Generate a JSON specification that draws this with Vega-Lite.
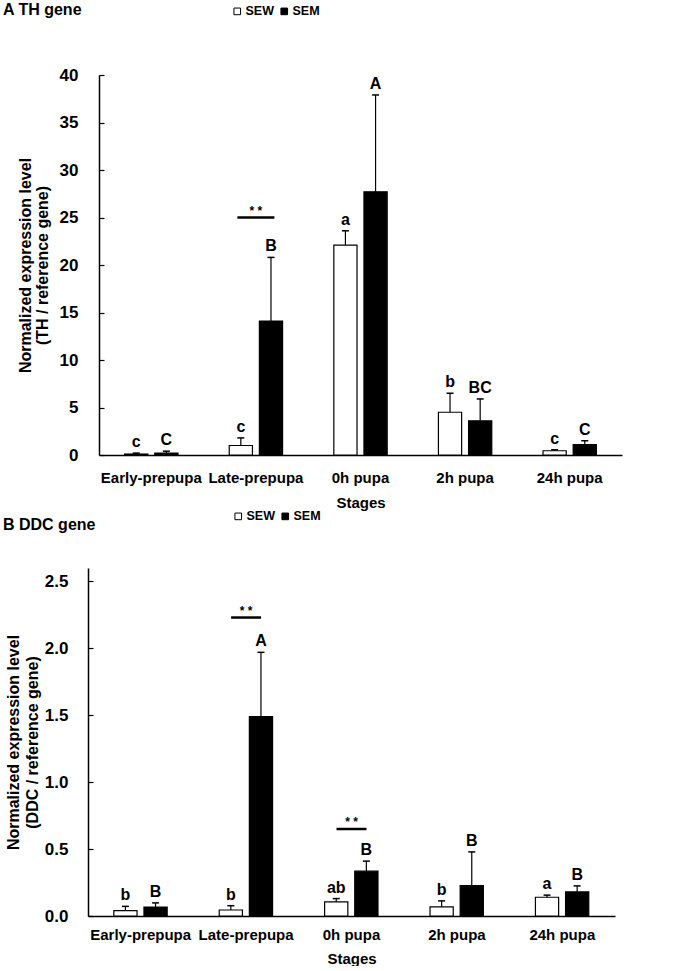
{
  "$schema": "https://vega.github.io/schema/vega-lite/v6.json",
  "padding": {"left": 3, "top": 1, "right": 5, "bottom": 0},
  "background": "white",
  "config": {
    "font": "Liberation Sans",
    "view": {"stroke": null},
    "axis": {"labelFont": "Liberation Sans", "titleFont": "Liberation Sans", "labelFontWeight": "bold", "titleFontWeight": "bold", "labelColor": "black", "titleColor": "black", "domainColor": "black", "tickColor": "black", "grid": false},
    "text": {"font": "Liberation Sans", "fontWeight": "bold", "color": "black"}
  },
  "datasets": {
    "th": [
      {"stage": "Early-prepupa", "group": "SEW", "mean": 0.1, "upper": 0.2, "letter": "c"},
      {"stage": "Early-prepupa", "group": "SEM", "mean": 0.2, "upper": 0.4, "letter": "C"},
      {"stage": "Late-prepupa", "group": "SEW", "mean": 1.0, "upper": 1.8, "letter": "c"},
      {"stage": "Late-prepupa", "group": "SEM", "mean": 14.1, "upper": 20.8, "letter": "B"},
      {"stage": "0h pupa", "group": "SEW", "mean": 22.1, "upper": 23.6, "letter": "a"},
      {"stage": "0h pupa", "group": "SEM", "mean": 27.7, "upper": 37.9, "letter": "A"},
      {"stage": "2h pupa", "group": "SEW", "mean": 4.5, "upper": 6.5, "letter": "b"},
      {"stage": "2h pupa", "group": "SEM", "mean": 3.6, "upper": 5.9, "letter": "BC"},
      {"stage": "24h pupa", "group": "SEW", "mean": 0.45, "upper": 0.55, "letter": "c"},
      {"stage": "24h pupa", "group": "SEM", "mean": 1.1, "upper": 1.5, "letter": "C"}
    ],
    "th_sig": [
      {"stage": "Late-prepupa", "y": 25.0}
    ],
    "ddc": [
      {"stage": "Early-prepupa", "group": "SEW", "mean": 0.04, "upper": 0.072, "letter": "b"},
      {"stage": "Early-prepupa", "group": "SEM", "mean": 0.067, "upper": 0.098, "letter": "B"},
      {"stage": "Late-prepupa", "group": "SEW", "mean": 0.045, "upper": 0.077, "letter": "b"},
      {"stage": "Late-prepupa", "group": "SEM", "mean": 1.49, "upper": 1.97, "letter": "A"},
      {"stage": "0h pupa", "group": "SEW", "mean": 0.105, "upper": 0.13, "letter": "ab"},
      {"stage": "0h pupa", "group": "SEM", "mean": 0.335, "upper": 0.41, "letter": "B"},
      {"stage": "2h pupa", "group": "SEW", "mean": 0.068, "upper": 0.113, "letter": "b"},
      {"stage": "2h pupa", "group": "SEM", "mean": 0.228, "upper": 0.479, "letter": "B"},
      {"stage": "24h pupa", "group": "SEW", "mean": 0.14, "upper": 0.156, "letter": "a"},
      {"stage": "24h pupa", "group": "SEM", "mean": 0.18, "upper": 0.225, "letter": "B"}
    ],
    "ddc_sig": [
      {"stage": "Late-prepupa", "y": 2.23},
      {"stage": "0h pupa", "y": 0.65}
    ]
  },
  "spacing": 0,
  "bounds": "full",
  "resolve": {"scale": {"color": "independent"}, "legend": {"color": "independent"}},
  "vconcat": [
    {
      "width": 534,
      "height": 380,
      "title": {"text": "A   TH gene", "anchor": "start", "frame": "group", "dx": -85, "offset": -12.5, "fontSize": 16, "fontWeight": "bold", "color": "black", "font": "Liberation Sans"},
      "encoding": {
        "x": {"field": "stage", "type": "nominal",
          "scale": {"domain": ["Early-prepupa", "Late-prepupa", "0h pupa", "2h pupa", "24h pupa"], "range": [11, 534], "paddingInner": 0.49, "paddingOuter": 0.245},
          "axis": {"title": "Stages", "labelAngle": 0, "ticks": false, "labelPadding": 15, "labelFontSize": 15, "titleFontSize": 15, "titlePadding": 10, "domainWidth": 1.5}}
      },
      "layer": [
        {
          "data": {"name": "th"},
          "mark": {"type": "bar", "stroke": "black", "strokeWidth": 1.2},
          "encoding": {
            "xOffset": {"field": "group", "type": "nominal", "scale": {"domain": ["SEW", "SEM"], "paddingInner": 0.23, "paddingOuter": 0}},
            "y": {"field": "mean", "type": "quantitative", "scale": {"domain": [0, 40]},
              "axis": {"title": ["Normalized expression level", "(TH / reference gene)"], "offset": -11, "values": [0, 5, 10, 15, 20, 25, 30, 35, 40], "tickSize": -5, "tickWidth": 1.2, "labelPadding": 26, "labelFontSize": 17, "titleFontSize": 16, "titlePadding": 9, "titleLineHeight": 17, "domainWidth": 1.5}},
            "color": {"field": "group", "type": "nominal", "scale": {"domain": ["SEW", "SEM"], "range": ["white", "black"]},
              "legend": {"title": null, "orient": "none", "direction": "horizontal", "legendX": 143, "legendY": -70, "symbolType": "square", "symbolSize": 44, "symbolStrokeColor": "black", "symbolStrokeWidth": 1, "labelFontSize": 12.5, "labelFontWeight": "bold", "labelFont": "Liberation Sans", "labelColor": "black", "labelOffset": 2, "columnPadding": 4, "padding": 0}}
          }
        },
        {
          "data": {"name": "th"},
          "mark": {"type": "rule", "color": "black", "strokeWidth": 1.2},
          "encoding": {
            "xOffset": {"field": "group", "type": "nominal"},
            "y": {"field": "mean", "type": "quantitative"},
            "y2": {"field": "upper"}
          }
        },
        {
          "data": {"name": "th"},
          "mark": {"type": "tick", "orient": "horizontal", "size": 7, "thickness": 1.5, "color": "black", "opacity": 1},
          "encoding": {
            "xOffset": {"field": "group", "type": "nominal"},
            "y": {"field": "upper", "type": "quantitative"}
          }
        },
        {
          "data": {"name": "th"},
          "mark": {"type": "text", "dy": -6, "baseline": "alphabetic", "fontSize": 16, "fontWeight": "bold"},
          "encoding": {
            "xOffset": {"field": "group", "type": "nominal"},
            "y": {"field": "upper", "type": "quantitative"},
            "text": {"field": "letter"}
          }
        },
        {
          "data": {"name": "th_sig"},
          "mark": {"type": "tick", "orient": "horizontal", "size": 37, "thickness": 2.5, "color": "black", "opacity": 1},
          "encoding": {"y": {"field": "y", "type": "quantitative"}}
        },
        {
          "data": {"name": "th_sig"},
          "mark": {"type": "text", "text": "* *", "dy": -3, "baseline": "alphabetic", "fontSize": 12, "fontWeight": "bold"},
          "encoding": {"y": {"field": "y", "type": "quantitative"}}
        }
      ]
    },
    {
      "width": 527,
      "height": 348,
      "title": {"text": "B   DDC gene", "anchor": "start", "frame": "group", "dx": -85, "offset": -23, "fontSize": 16, "fontWeight": "bold", "color": "black", "font": "Liberation Sans"},
      "encoding": {
        "x": {"field": "stage", "type": "nominal",
          "scale": {"domain": ["Early-prepupa", "Late-prepupa", "0h pupa", "2h pupa", "24h pupa"], "paddingInner": 0.49, "paddingOuter": 0.245},
          "axis": {"title": "Stages", "labelAngle": 0, "ticks": false, "labelPadding": 11, "labelFontSize": 15, "titleFontSize": 15, "titlePadding": 9, "domainWidth": 1.5}}
      },
      "layer": [
        {
          "data": {"name": "ddc"},
          "mark": {"type": "bar", "stroke": "black", "strokeWidth": 1.2},
          "encoding": {
            "xOffset": {"field": "group", "type": "nominal", "scale": {"domain": ["SEW", "SEM"], "paddingInner": 0.23, "paddingOuter": 0}},
            "y": {"field": "mean", "type": "quantitative", "scale": {"domain": [0, 2.5]},
              "axis": {"title": ["Normalized expression level", "(DDC / reference gene)"], "values": [0, 0.5, 1, 1.5, 2, 2.5], "format": ".1f", "tickSize": -5, "tickWidth": 1.2, "labelPadding": 25, "labelFontSize": 17, "titleFontSize": 16, "titlePadding": 4, "titleLineHeight": 19, "domainWidth": 1.5}},
            "color": {"field": "group", "type": "nominal", "scale": {"domain": ["SEW", "SEM"], "range": ["white", "black"]},
              "legend": {"title": null, "orient": "none", "direction": "horizontal", "legendX": 144, "legendY": -58, "symbolType": "square", "symbolSize": 44, "symbolStrokeColor": "black", "symbolStrokeWidth": 1, "labelFontSize": 12.5, "labelFontWeight": "bold", "labelFont": "Liberation Sans", "labelColor": "black", "labelOffset": 2, "columnPadding": 4, "padding": 0}}
          }
        },
        {
          "data": {"name": "ddc"},
          "mark": {"type": "rule", "color": "black", "strokeWidth": 1.2},
          "encoding": {
            "xOffset": {"field": "group", "type": "nominal"},
            "y": {"field": "mean", "type": "quantitative"},
            "y2": {"field": "upper"}
          }
        },
        {
          "data": {"name": "ddc"},
          "mark": {"type": "tick", "orient": "horizontal", "size": 7, "thickness": 1.5, "color": "black", "opacity": 1},
          "encoding": {
            "xOffset": {"field": "group", "type": "nominal"},
            "y": {"field": "upper", "type": "quantitative"}
          }
        },
        {
          "data": {"name": "ddc"},
          "mark": {"type": "text", "dy": -6, "baseline": "alphabetic", "fontSize": 16, "fontWeight": "bold"},
          "encoding": {
            "xOffset": {"field": "group", "type": "nominal"},
            "y": {"field": "upper", "type": "quantitative"},
            "text": {"field": "letter"}
          }
        },
        {
          "data": {"name": "ddc_sig"},
          "mark": {"type": "tick", "orient": "horizontal", "size": 30, "thickness": 2.5, "color": "black", "opacity": 1},
          "encoding": {"y": {"field": "y", "type": "quantitative"}}
        },
        {
          "data": {"name": "ddc_sig"},
          "mark": {"type": "text", "text": "* *", "dy": -3, "baseline": "alphabetic", "fontSize": 12, "fontWeight": "bold"},
          "encoding": {"y": {"field": "y", "type": "quantitative"}}
        }
      ]
    }
  ]
}
